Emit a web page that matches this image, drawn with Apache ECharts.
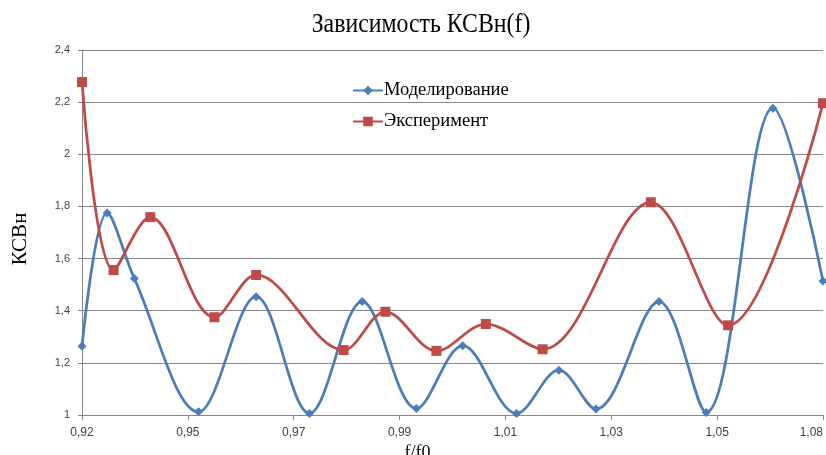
<!DOCTYPE html>
<html>
<head>
<meta charset="utf-8">
<script src="https://cdn.jsdelivr.net/npm/echarts@6/dist/echarts.min.js"></script>
<style>html,body{margin:0;padding:0;background:#fff}#c{width:826px;height:455px}</style>
</head>
<body>
<div id="c"></div>
<script>
// Tick labels of the f/f0 axis (evenly spaced ticks, index 0..7)
const tickLabels = ['0,92','0,95','0,97','0,99','1,01','1,03','1,05','1,08'];
// Моделирование: positions along the axis (tick-index units) and КСВн values
const simX = [0, 0.238, 0.494, 1.101, 1.645, 2.149, 2.647, 3.159, 3.597, 4.105, 4.505, 4.855, 5.451, 5.896, 6.527, 7];
const simY = [1.264, 1.775, 1.524, 1.012, 1.454, 1.006, 1.435, 1.025, 1.266, 1.006, 1.172, 1.023, 1.435, 1.010, 2.177, 1.514];
// Эксперимент
const expX = [0, 0.298, 0.645, 1.251, 1.645, 2.471, 2.866, 3.348, 3.815, 4.351, 5.373, 6.104, 7];
const expY = [2.277, 1.556, 1.759, 1.375, 1.537, 1.249, 1.396, 1.246, 1.349, 1.252, 1.816, 1.344, 2.196];

const zip = (xs, ys) => xs.map((x, i) => [x, ys[i]]);
const serif = '"Liberation Serif", "Times New Roman", serif';
const sans = '"Liberation Sans Narrow", "Liberation Sans", sans-serif';
const chart = echarts.init(document.getElementById('c'));
chart.setOption({
  animation: false,
  backgroundColor: '#fff',
  graphic: [{
    type: 'text',
    x: 421,
    y: 11,
    scaleX: 0.85,
    style: {text: 'Зависимость КСВн(f)', font: '28px ' + serif, fill: '#000', align: 'center', textAlign: 'center', verticalAlign: 'top', textVerticalAlign: 'top'}
  }],
  legend: {
    orient: 'vertical',
    left: 352,
    top: 81,
    padding: 0,
    itemWidth: 30,
    itemHeight: 12,
    itemGap: 12,
    textStyle: {fontFamily: serif, fontSize: 18.5, color: '#000', padding: [0, 0, 0, -4]},
    data: ['Моделирование', 'Эксперимент']
  },
  grid: {left: 82, right: 3, top: 50, bottom: 40, outerBoundsMode: 'none', containLabel: false},
  xAxis: {
    type: 'value', min: 0, max: 7, interval: 1,
    name: 'f/f0', nameLocation: 'middle', nameGap: 26,
    nameTextStyle: {fontFamily: serif, fontSize: 18, color: '#000', padding: [0, 70, 0, 0]},
    axisLine: {show: true, lineStyle: {color: '#868686', width: 1}},
    axisTick: {show: true, length: 5, inside: false, lineStyle: {color: '#868686'}},
    axisLabel: {formatter: v => tickLabels[Math.round(v)], fontFamily: sans, fontSize: 12, color: '#404040', margin: 12, alignMaxLabel: 'right'},
    splitLine: {show: false}
  },
  yAxis: {
    type: 'value', min: 1, max: 2.4, interval: 0.2,
    name: 'КСВн', nameLocation: 'middle', nameGap: 51, nameRotate: 90,
    nameTextStyle: {fontFamily: serif, fontSize: 21, color: '#000', padding: [0, 13, 0, 0]},
    axisLine: {show: true, lineStyle: {color: '#868686', width: 1}},
    axisTick: {show: true, length: 4, lineStyle: {color: '#868686'}},
    axisLabel: {formatter: v => String(Math.round(v*10)/10).replace('.', ','), fontFamily: sans, fontSize: 11, color: '#404040', margin: 12},
    splitLine: {show: true, lineStyle: {color: '#868686', width: 1}}
  },
  series: [
    {
      name: 'Моделирование', type: 'line', smooth: 0.35,
      data: zip(simX, simY),
      symbol: 'diamond', symbolSize: 9,
      lineStyle: {color: '#4A7EBB', width: 2.75},
      itemStyle: {color: '#4A7EBB'},
      clip: false
    },
    {
      name: 'Эксперимент', type: 'line', smooth: 0.35,
      data: zip(expX, expY),
      symbol: 'rect', symbolSize: 10,
      lineStyle: {color: '#BE4B48', width: 2.75},
      itemStyle: {color: '#BE4B48'},
      clip: false
    }
  ]
});
</script>
</body>
</html>
